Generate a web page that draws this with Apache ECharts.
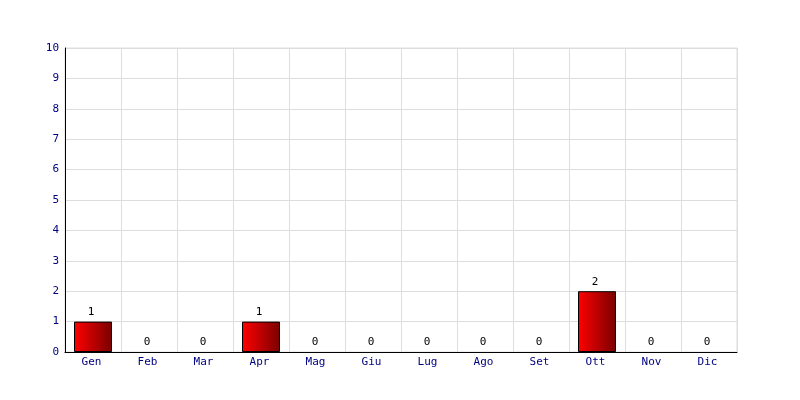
<!DOCTYPE html>
<html><head><meta charset="utf-8">
<script src="https://cdn.jsdelivr.net/npm/echarts@6/dist/echarts.min.js"></script>
<style>html,body{margin:0;padding:0;background:#fff}#c{width:800px;height:400px}</style>
</head><body><div id="c"></div>
<script>
const categories = ['Gen','Feb','Mar','Apr','Mag','Giu','Lug','Ago','Set','Ott','Nov','Dic'];
const values = [1,0,0,1,0,0,0,0,0,2,0,0];
const yMin = 0, yMax = 10, yInterval = 1;
const font = 'DejaVu Sans Mono';
const barData = values.map(v => v === 0 ? {value: v, itemStyle: {borderWidth: 0}} : {value: v});
const chart = echarts.init(document.getElementById('c'), null, {renderer:'canvas'});
chart.setOption({
  animation: false,
  backgroundColor: '#fff',
  grid: {left: 65, right: 63, top: 48, bottom: 48, show: true, borderColor: '#dddddd', borderWidth: 1},
  xAxis: {
    type: 'category', data: categories, boundaryGap: true,
    axisLine: {lineStyle: {color: '#000', width: 1}},
    axisTick: {show: false},
    axisLabel: {color: '#000080', fontFamily: font, fontSize: 11, margin: 5,
      formatter: v => v, padding: [0, 3, 0, 0]},
    splitLine: {show: true, lineStyle: {color: '#dddddd'}}
  },
  yAxis: {
    type: 'value', min: yMin, max: yMax, interval: yInterval,
    axisLine: {show: true, lineStyle: {color: '#000', width: 1}},
    axisTick: {show: false},
    axisLabel: {color: '#000080', fontFamily: font, fontSize: 11, margin: 6},
    splitLine: {show: true, lineStyle: {color: '#dddddd'}}
  },
  series: [{
    type: 'bar', data: barData, barWidth: 38,
    itemStyle: {
      borderColor: '#000', borderWidth: 1,
      color: new echarts.graphic.LinearGradient(0,0,1,0,[{offset:0,color:'#ff0000'},{offset:1,color:'#7a0000'}])
    },
    label: {show: true, position: 'top', color: '#000', fontFamily: font, fontSize: 11, distance: 4, offset: [-2, 0]}
  }]
});
</script></body></html>
